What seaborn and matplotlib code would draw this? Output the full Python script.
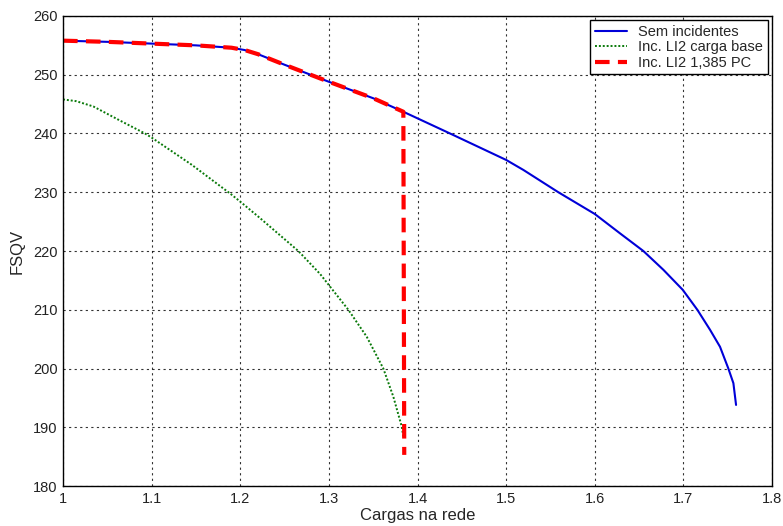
import matplotlib
matplotlib.use("Agg")
import matplotlib.pyplot as plt
import seaborn as sns
import pandas as pd

blue_x = [1.0, 1.05, 1.1, 1.15, 1.19, 1.205, 1.22, 1.25, 1.3, 1.35, 1.384, 1.4367, 1.5, 1.5194, 1.5589, 1.6, 1.6285, 1.6548,
          1.6774, 1.6992, 1.7157, 1.730, 1.7413, 1.7507, 1.7564, 1.7594]
blue_y = [255.8, 255.6, 255.3, 255.0, 254.6, 254.2, 253.5, 251.7, 248.8, 246.0, 243.7, 240.0, 235.5, 233.8, 230.0, 226.3, 223.0, 220.0,
          216.8, 213.4, 210.0, 206.6, 203.7, 200.0, 197.5, 193.8]

green_x = [1.0, 1.015, 1.0342, 1.0643, 1.0925, 1.1, 1.145, 1.1884, 1.2, 1.2223, 1.2655, 1.29, 1.3219, 1.3427, 1.3614, 1.3727, 1.3822, 1.384]
green_y = [245.8, 245.5, 244.6, 242.2, 240.0, 239.3, 234.7, 229.8, 228.4, 225.6, 220.0, 216.1, 210.0, 205.4, 200.0, 195.2, 190.1, 188.4]

red_x = [1.0, 1.05, 1.1, 1.15, 1.19, 1.205, 1.22, 1.25, 1.3, 1.35, 1.384, 1.385]
red_y = [255.8, 255.6, 255.3, 255.0, 254.6, 254.2, 253.5, 251.7, 248.8, 246.0, 243.7, 185.3]

labels = ["Sem incidentes", "Inc. LI2 carga base", "Inc. LI2 1,385 PC"]

sns.set_style("white")
plt.rcParams['font.family'] = ['Liberation Sans', 'DejaVu Sans']

fig = plt.figure(figsize=(7.83, 5.26), dpi=100)
ax = fig.add_axes([0.0805, 0.076, 0.9055, 0.8936])

df_b = pd.DataFrame({"x": blue_x, "y": blue_y})
df_g = pd.DataFrame({"x": green_x, "y": green_y})
df_r = pd.DataFrame({"x": red_x, "y": red_y})

sns.lineplot(data=df_b, x="x", y="y", ax=ax, color="#0000d8", lw=1.5, sort=False, label=labels[0], estimator=None)
sns.lineplot(data=df_g, x="x", y="y", ax=ax, color="#0a7a0a", lw=1.4, sort=False, label=labels[1], estimator=None, linestyle=(0, (1, 1)))
sns.lineplot(data=df_r, x="x", y="y", ax=ax, color="#ff0000", lw=3, sort=False, label=labels[2], estimator=None, linestyle=(0, (3.5, 2)))

ax.set_xlim(1.0, 1.8)
ax.set_ylim(180, 260)
ax.set_xticks([1.0, 1.1, 1.2, 1.3, 1.4, 1.5, 1.6, 1.7, 1.8])
ax.set_xticklabels(["1", "1.1", "1.2", "1.3", "1.4", "1.5", "1.6", "1.7", "1.8"])
ax.set_yticks(range(180, 261, 10))
ax.tick_params(labelsize=10.5, colors="#222222", length=0, pad=4)
ax.grid(True, color="black", linestyle=(0, (2, 3)), linewidth=0.8, alpha=0.8)
for s in ax.spines.values():
    s.set_color("black")
    s.set_linewidth(1.0)
ax.set_xlabel("Cargas na rede", fontsize=12, labelpad=2)
ax.set_ylabel("FSQV", fontsize=12, labelpad=6)

leg = ax.legend(loc="upper right", fontsize=10.5, frameon=True, fancybox=False, borderaxespad=0.3,
                handlelength=2.2, labelspacing=0.1, borderpad=0.3)
leg.get_frame().set_edgecolor("black")
leg.get_frame().set_linewidth(1.0)
leg.get_frame().set_alpha(1.0)

fig.savefig("out.png", dpi=100)
